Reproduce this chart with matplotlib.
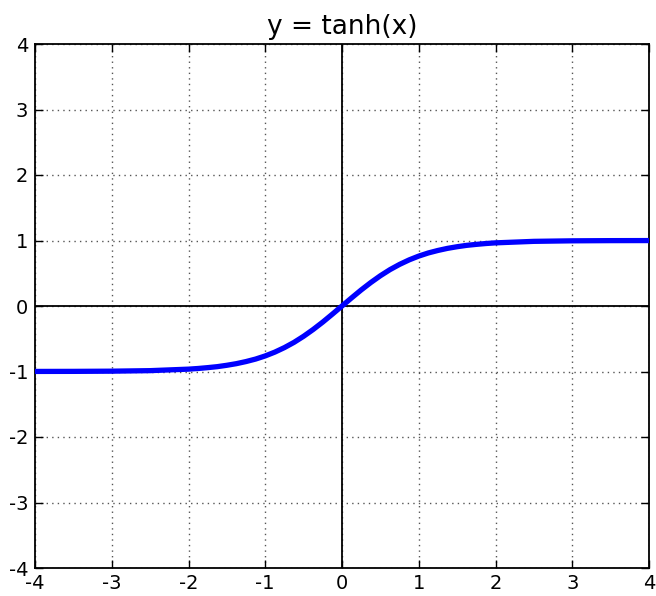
import matplotlib
matplotlib.use("Agg")
import matplotlib.pyplot as plt

# Points
x_left = [-4.0, -3.5, -3.0, -2.5, -2.0, -1.875, -1.75, -1.625, -1.5, -1.375, -1.25,
          -1.125, -1.0, -0.875, -0.75, -0.625, -0.5, -0.375, -0.25, -0.125]
y_left = [-0.999, -0.998, -0.995, -0.987, -0.964, -0.954, -0.941, -0.926, -0.905,
          -0.880, -0.848, -0.810, -0.762, -0.704, -0.635, -0.555, -0.462, -0.358,
          -0.245, -0.124]
x_vals = x_left + [0.0] + [-v for v in reversed(x_left)]
y_vals = y_left + [0.0] + [-v for v in reversed(y_left)]
ticks = [-4, -3, -2, -1, 0, 1, 2, 3, 4]
title = "y = tanh(x)"

plt.rcParams['font.family'] = ['DejaVu Sans']
fig = plt.figure(figsize=(6.56, 5.96), dpi=100)
ax = fig.add_axes([35/656, 1 - 568/596, (649 - 35)/656, (568 - 44)/596])

ax.plot(x_vals, y_vals, color='#0000ff', lw=3.8, solid_capstyle='butt', zorder=3)
ax.axhline(0, color='black', lw=1.3, zorder=2)
ax.axvline(0, color='black', lw=1.3, zorder=2)

ax.set_xlim(-4, 4)
ax.set_ylim(-4, 4)
ax.set_xticks(ticks)
ax.set_yticks(ticks)
ax.set_xticklabels([str(t) for t in ticks])
ax.set_yticklabels([str(t) for t in ticks])
ax.grid(True, color='#555555', linestyle=(0, (1, 3)), lw=1.0)
ax.tick_params(direction='in', length=6, width=1, labelsize=14,
               top=True, right=True, colors='black')
ax.tick_params(axis='x', pad=4)
ax.tick_params(axis='y', pad=5)
for s in ax.spines.values():
    s.set_linewidth(1.3)
ax.set_title(title, fontsize=19, pad=7)

fig.savefig("out.png", dpi=100)
